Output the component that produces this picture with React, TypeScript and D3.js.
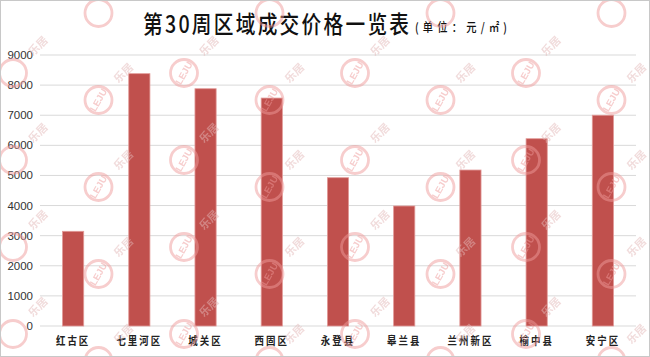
import React from "react";
import * as d3 from "d3";

const categories = ["红古区", "七里河区", "城关区", "西固区", "永登县", "皋兰县", "兰州新区", "榆中县", "安宁区"];
const prices = [3145, 8380, 7880, 7570, 4925, 3985, 5180, 6220, 7000];
const yTicks = [0, 1000, 2000, 3000, 4000, 5000, 6000, 7000, 8000, 9000];
const titleMain = "第30周区域成交价格一览表";
const titleUnit = "(单位：元/㎡)";

const W = 650;
const H = 357;

export default function App() {
  const x = d3.scaleBand<string>().domain(categories).range([40, 636]).paddingInner(0.68).paddingOuter(0.34);
  const y = d3.scaleLinear().domain([0, 9000]).range([326, 55]);

  const marks: { cx: number; cy: number }[] = [];
  for (let i = 0; i < 9; i++) {
    const cx = 13 + 85.5 * i;
    const base = i % 2 === 0 ? -14 : 13;
    for (let j = 0; j < 5; j++) marks.push({ cx, cy: base + 87 * j });
  }

  const font = "'Noto Sans CJK SC', 'Noto Sans', sans-serif";
  const sx = 0.82;

  return (
    <svg width={W} height={H} style={{ position: "fixed", left: 0, top: 0, background: "#fff" }}>
      <rect x={0} y={0} width={W} height={H} fill="#fff" />
      {yTicks.map((t) => (
        <g key={t}>
          <line x1={40} x2={636} y1={y(t)} y2={y(t)} stroke="#d9d9d9" strokeWidth={1} />
          <text x={33} y={y(t)} dy="0.35em" textAnchor="end" fontFamily="'Liberation Sans', Arial, sans-serif" fontSize={11.5} fill="#333">
            {t}
          </text>
        </g>
      ))}
      {categories.map((c, i) => (
        <rect
          key={c}
          x={x(c)!}
          y={y(prices[i])}
          width={x.bandwidth()}
          height={y(0) - y(prices[i])}
          fill="#c0504d"
          stroke="#e29a98"
          strokeWidth={0.8}
        />
      ))}
      {categories.map((c) => {
        const cx = x(c)! + x.bandwidth() / 2;
        return (
          <g key={c} transform={`translate(${cx},345) scale(${sx},1)`}>
            <text x={0} y={0} textAnchor="middle" fontFamily={font} fontSize={11.5} fontWeight={700} fill="#222" letterSpacing={2.5}>
              {c}
            </text>
          </g>
        );
      })}
      <g transform={`translate(143,33) scale(${sx},1)`}>
        <text x={0} y={0} fontFamily={font} fontSize={24} fontWeight={500} fill="#111" textLength={266 / sx} lengthAdjust="spacing">
          {titleMain}
        </text>
      </g>
      <g transform={`translate(415,32) scale(${sx},1)`}>
        <text x={0} y={0} fontFamily={font} fontSize={12.5} fontWeight={500} fill="#111" textLength={92 / sx} lengthAdjust="spacing">
          {titleUnit}
        </text>
      </g>
      <g opacity={0.5} pointerEvents="none">
        {marks.map((m, k) => {
          const inside = m.cx > 16 && m.cx < W - 16 && m.cy > 16 && m.cy < H - 16;
          const tx = m.cx + 25;
          const ty = m.cy - 27;
          const textInside = tx > 12 && tx < W - 12 && ty > 12 && ty < H - 12;
          return (
            <g key={k}>
              <circle cx={m.cx} cy={m.cy} r={13.5} fill="none" stroke="#ee9a9a" strokeWidth={2.8} />
              {inside && (
                <text
                  x={m.cx}
                  y={m.cy}
                  dy="0.35em"
                  textAnchor="middle"
                  fontFamily="'Liberation Sans', Arial, sans-serif"
                  fontWeight={700}
                  fontSize={9.5}
                  fill="#ee9a9a"
                  transform={`rotate(-60 ${m.cx} ${m.cy})`}
                >
                  LEJU
                </text>
              )}
              {textInside && (
                <text
                  x={tx}
                  y={ty}
                  dy="0.35em"
                  textAnchor="middle"
                  fontFamily={font}
                  fontSize={11}
                  fontWeight={700}
                  fill="#e3b8b8"
                  transform={`rotate(-45 ${tx} ${ty})`}
                >
                  乐居
                </text>
              )}
            </g>
          );
        })}
      </g>
      <rect x={0.5} y={0.5} width={W - 1} height={H - 1} fill="none" stroke="#c8c8c8" />
    </svg>
  );
}
